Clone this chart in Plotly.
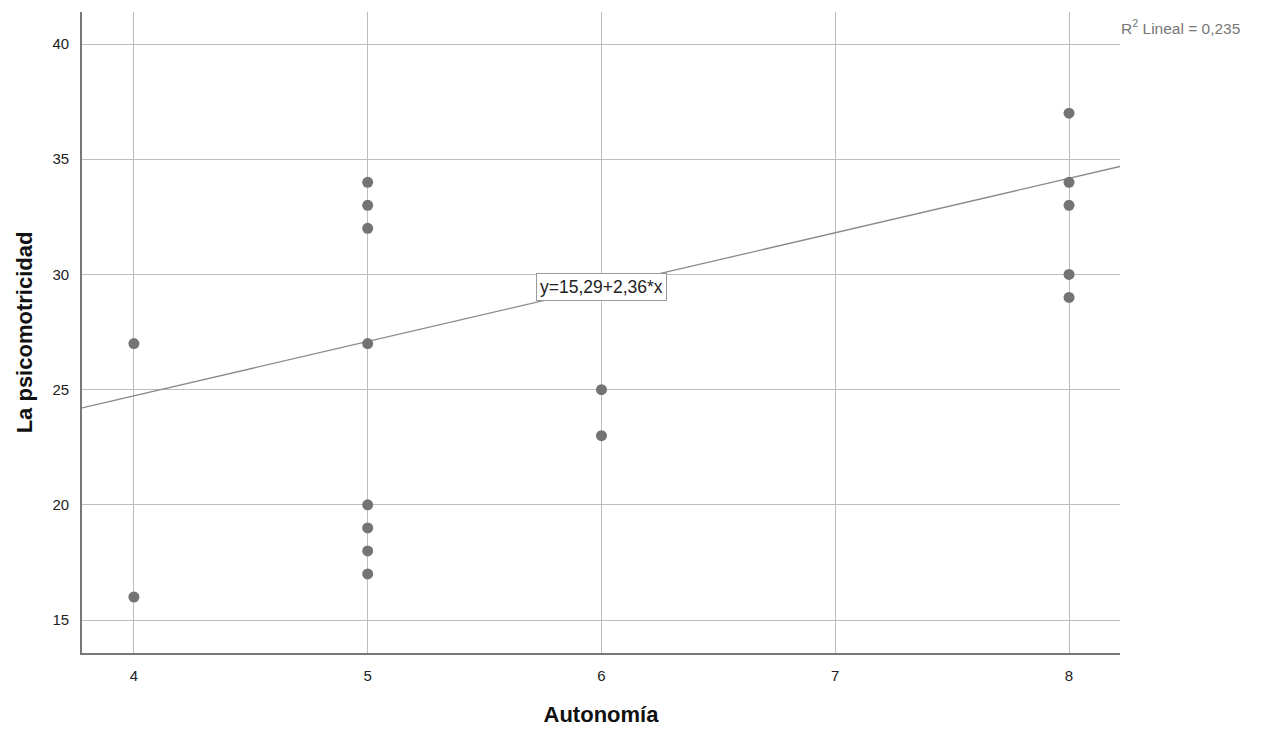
import plotly.graph_objects as go

autonomia = [4, 4, 5, 5, 5, 5, 5, 5, 5, 5, 6, 6, 8, 8, 8, 8, 8]
psicomotricidad = [27, 16, 34, 33, 32, 27, 20, 19, 18, 17, 25, 23, 37, 34, 33, 30, 29]
intercept = 15.29
slope = 2.36
x_range = [3.778, 8.218]
y_range = [13.57, 41.39]
x_ticks = [4, 5, 6, 7, 8]
y_ticks = [15, 20, 25, 30, 35, 40]

FONT = "Liberation Sans, Arial"

fig = go.Figure()
fig.add_trace(go.Scatter(
    x=x_range, y=[intercept + slope * v for v in x_range],
    mode="lines", line=dict(color="#8a8a8a", width=1.3), hoverinfo="skip", showlegend=False))
fig.add_trace(go.Scatter(
    x=autonomia, y=psicomotricidad, mode="markers",
    marker=dict(color="#747474", size=11, line=dict(width=0)), showlegend=False))

fig.add_annotation(x=6, y=29.45, text="y=15,29+2,36*x", showarrow=False,
                   font=dict(family=FONT, size=17.5, color="#222"),
                   bgcolor="white", bordercolor="#999", borderwidth=1, borderpad=3)
fig.add_annotation(xref="paper", yref="paper", x=1.0, y=1.0, xanchor="left", yanchor="middle",
                   xshift=-1, yshift=-15,
                   text="R<sup>2</sup> Lineal = 0,235", showarrow=False,
                   font=dict(family=FONT, size=15.5, color="#777"))

axis_common = dict(showgrid=True, gridcolor="#bdbdbd", gridwidth=1.4, zeroline=False,
                   showline=True, linecolor="#777", linewidth=1.6, ticks="", automargin=False,
                   tickfont=dict(family=FONT, size=15, color="#222"))
fig.update_xaxes(range=x_range, tickvals=x_ticks, ticklabelstandoff=8,
                 title=dict(text="<b>Autonomía</b>", font=dict(family=FONT, size=22, color="#111"), standoff=24),
                 **axis_common)
fig.update_yaxes(range=y_range, tickvals=y_ticks, ticklabelstandoff=8,
                 title=dict(text="<b>La psicomotricidad</b>", font=dict(family=FONT, size=22, color="#111"), standoff=14),
                 **axis_common)
fig.update_layout(width=1265, height=729, margin=dict(l=82, r=145, t=12, b=76),
                  plot_bgcolor="white", paper_bgcolor="white")
fig.write_html("out.html")
